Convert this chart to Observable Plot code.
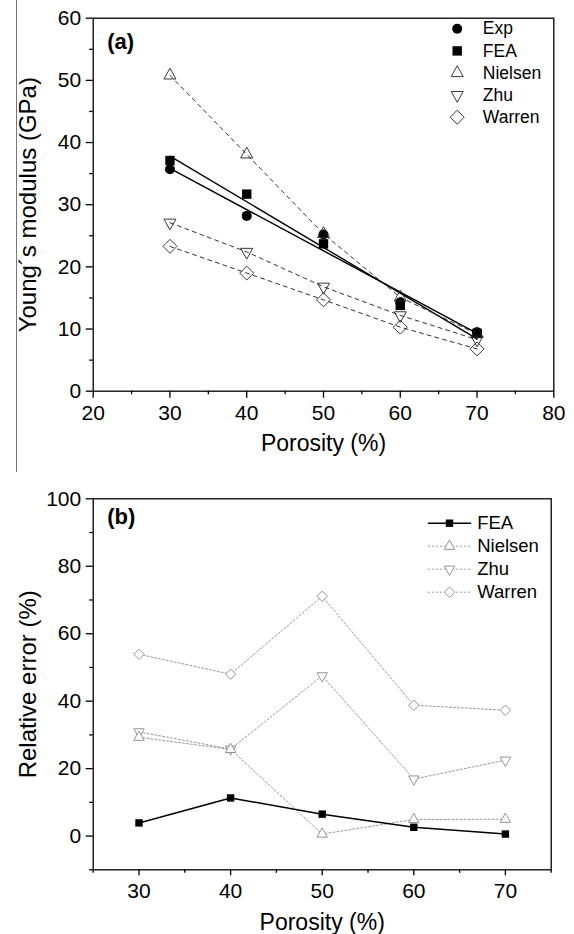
<!DOCTYPE html>
<html>
<head>
<meta charset="utf-8">
<script src="https://cdn.jsdelivr.net/npm/d3@7"></script>
<script src="https://cdn.jsdelivr.net/npm/@observablehq/plot@0.6"></script>
<style>
  html, body { margin: 0; padding: 0; background: #fff; }
  body { width: 574px; height: 934px; position: relative; overflow: hidden; font-family: "Liberation Sans", Arial, sans-serif; }
  #pa { position: absolute; left: 0; top: 0; }
  #pb { position: absolute; left: 0; top: 470px; }
  #edge { position: absolute; left: 16px; top: 0; width: 1px; height: 472px; background: #777; }
</style>
</head>
<body>
<div id="pa"></div>
<div id="pb"></div>
<div id="edge"></div>
<script>
// ---------- data ----------
const porosity = [30, 40, 50, 60, 70];

// panel (a): Young's modulus (GPa)
const expE     = [35.7, 28.2, 25.2, 14.3, 9.5];
const feaE     = [37.1, 31.7, 23.7, 13.8, 9.3];
const nielsenE = [50.8, 38.1, 25.3, 15.1, 9.2];
const zhuE     = [27.1, 22.4, 16.8, 12.2, 8.3];
const warrenE  = [23.3, 19.0, 14.7, 10.3, 6.8];

// panel (b): relative error (%)
const feaErr     = [3.9, 11.3, 6.5, 2.6, 0.6];
const nielsenErr = [29.3, 25.7, 0.6, 4.9, 5.0];
const zhuErr     = [30.9, 25.8, 47.5, 16.9, 22.5];
const warrenErr  = [53.9, 48.0, 71.1, 38.8, 37.3];

// axes / labels
const xTicksA = [20, 30, 40, 50, 60, 70, 80];
const xMinorA = [25, 35, 45, 55, 65, 75];
const yTicksA = [0, 10, 20, 30, 40, 50, 60];
const yMinorA = [5, 15, 25, 35, 45, 55];
const xTicksB = [30, 40, 50, 60, 70];
const xMinorB = [25, 35, 45, 55, 65, 75];
const yTicksB = [0, 20, 40, 60, 80, 100];
const yMinorB = [-10, 10, 30, 50, 70, 90];
const xTitle = "Porosity (%)";
const yTitleA = "Young\u00b4s modulus (GPa)";
const yTitleB = "Relative error (%)";
const panelA = "(a)";
const panelB = "(b)";
const legendA = ["Exp", "FEA", "Nielsen", "Zhu", "Warren"];
const legendB = ["FEA", "Nielsen", "Zhu", "Warren"];

// ---------- symbols ----------
const rad = size => Math.sqrt(size / Math.PI);
const sym = {
  circle: "circle",
  square: { draw(c, s) { const r = rad(s); c.rect(-r, -r, 2 * r, 2 * r); } },
  up: { draw(c, s) { const r = rad(s); c.moveTo(0, -1.2 * r); c.lineTo(r, 0.6 * r); c.lineTo(-r, 0.6 * r); c.closePath(); } },
  down: { draw(c, s) { const r = rad(s); c.moveTo(0, 1.2 * r); c.lineTo(r, -0.6 * r); c.lineTo(-r, -0.6 * r); c.closePath(); } },
  diamond: { draw(c, s) { const r = rad(s); c.moveTo(0, -r); c.lineTo(r, 0); c.lineTo(0, r); c.lineTo(-r, 0); c.closePath(); } },
  seg: { draw(c, s) { c.moveTo(-21.7, 0); c.lineTo(21.7, 0); } }
};

const rows = (vals, name) => porosity.map((p, i) => ({ p, v: vals[i], s: name }));
const font = "'Liberation Sans', Arial, sans-serif";

// ---------- panel (a) ----------
const A = {
  Exp: rows(expE, "Exp"), FEA: rows(feaE, "FEA"), Nielsen: rows(nielsenE, "Nielsen"),
  Zhu: rows(zhuE, "Zhu"), Warren: rows(warrenE, "Warren")
};
const styleA = {
  Exp:     { symbol: sym.circle, r: 5,   fill: "black", stroke: "none" },
  FEA:     { symbol: sym.square, r: 4.7, fill: "black", stroke: "none" },
  Nielsen: { symbol: sym.up,     r: 6,   fill: "none", stroke: "#222", strokeWidth: 0.9 },
  Zhu:     { symbol: sym.down,   r: 6,   fill: "none", stroke: "#222", strokeWidth: 0.9 },
  Warren:  { symbol: sym.diamond,r: 7,   fill: "none", stroke: "#222", strokeWidth: 0.9 }
};

const marksA = [
  Plot.axisX({ ticks: xTicksA, tickSize: 7, tickPadding: 7, fontSize: 21, strokeWidth: 1.3, tickFormat: d => String(d), label: null }),
  Plot.axisX({ ticks: xMinorA, tickSize: 3.5, tickFormat: () => "", strokeWidth: 1.3, label: null }),
  Plot.axisY({ ticks: yTicksA, tickSize: 7, tickPadding: 5, fontSize: 21, strokeWidth: 1.3, tickFormat: d => String(d), label: null }),
  Plot.axisY({ ticks: yMinorA, tickSize: 3.5, tickFormat: () => "", strokeWidth: 1.3, label: null }),
  Plot.frame({ stroke: "black", strokeWidth: 1.3 }),
  Plot.linearRegressionY(A.Exp, { x: "p", y: "v", ci: 0, stroke: "black", strokeWidth: 1.4 }),
  Plot.linearRegressionY(A.FEA, { x: "p", y: "v", ci: 0, stroke: "black", strokeWidth: 1.4 }),
  ...["Nielsen", "Zhu", "Warren"].map(k =>
    Plot.line(A[k], { x: "p", y: "v", stroke: "#333", strokeWidth: 1, strokeDasharray: "4,4" })),
  ...Object.keys(A).map(k => Plot.dot(A[k], { x: "p", y: "v", ...styleA[k] })),
  Plot.text([panelA], { frameAnchor: "top-left", dx: 14, dy: 15, textAnchor: "start", lineAnchor: "top", fontSize: 22, fontWeight: "bold", text: d => d }),
  Plot.text([yTitleA], { frameAnchor: "left", dx: -65, rotate: -90, textAnchor: "middle", lineAnchor: "middle", fontSize: 24, text: d => d }),
  Plot.text([xTitle], { frameAnchor: "bottom", dy: 52, textAnchor: "middle", lineAnchor: "middle", fontSize: 23, text: d => d }),
  ...legendA.flatMap((k, i) => [
    Plot.dot([k], { frameAnchor: "top-right", dx: -96.6, dy: 10.6 + i * 22.1, ...styleA[k] }),
    Plot.text([k], { frameAnchor: "top-right", dx: -71, dy: 10.6 + i * 22.1, textAnchor: "start", lineAnchor: "middle", fontSize: 17.5, text: d => d })
  ])
];

const plotA = Plot.plot({
  width: 574, height: 470,
  marginLeft: 92.7, marginRight: 20.7, marginTop: 17.7, marginBottom: 79.3,
  x: { domain: [20, 80] },
  y: { domain: [0, 60] },
  style: { fontFamily: font, background: "white", color: "black", overflow: "visible" },
  marks: marksA
});
document.getElementById("pa").appendChild(plotA);

// ---------- panel (b) ----------
const B = {
  FEA: rows(feaErr, "FEA"), Nielsen: rows(nielsenErr, "Nielsen"),
  Zhu: rows(zhuErr, "Zhu"), Warren: rows(warrenErr, "Warren")
};
const gray = "#8a8a8a";
const styleB = {
  FEA:     { symbol: sym.square, r: 3.7, fill: "black", stroke: "none" },
  Nielsen: { symbol: sym.up,     r: 5.2, fill: "white", stroke: gray, strokeWidth: 0.9 },
  Zhu:     { symbol: sym.down,   r: 5.2, fill: "white", stroke: gray, strokeWidth: 0.9 },
  Warren:  { symbol: sym.diamond,r: 5.2, fill: "white", stroke: gray, strokeWidth: 0.9 }
};
const lineB = {
  FEA:     { stroke: "black", strokeWidth: 1.5 },
  Nielsen: { stroke: "#999", strokeWidth: 1, strokeDasharray: "2,2" },
  Zhu:     { stroke: "#999", strokeWidth: 1, strokeDasharray: "2,2" },
  Warren:  { stroke: "#999", strokeWidth: 1, strokeDasharray: "2,2" }
};
const orderB = ["Warren", "Zhu", "Nielsen", "FEA"];

const marksB = [
  Plot.axisX({ ticks: xTicksB, tickSize: 6, tickPadding: 7, fontSize: 21, strokeWidth: 1.3, tickFormat: d => String(d), label: null }),
  Plot.axisX({ ticks: xMinorB, tickSize: 3.5, tickFormat: () => "", strokeWidth: 1.3, label: null }),
  Plot.axisY({ ticks: yTicksB, tickSize: 7, tickPadding: 5, fontSize: 21, strokeWidth: 1.3, tickFormat: d => String(d), label: null }),
  Plot.axisY({ ticks: yMinorB, tickSize: 3.5, tickFormat: () => "", strokeWidth: 1.3, label: null }),
  Plot.frame({ stroke: "black", strokeWidth: 1.3 }),
  ...orderB.map(k => Plot.line(B[k], { x: "p", y: "v", ...lineB[k] })),
  ...orderB.map(k => Plot.dot(B[k], { x: "p", y: "v", ...styleB[k] })),
  Plot.text([panelB], { frameAnchor: "top-left", dx: 14, dy: 10, textAnchor: "start", lineAnchor: "top", fontSize: 22, fontWeight: "bold", text: d => d }),
  Plot.text([yTitleB], { frameAnchor: "left", dx: -65, rotate: -90, textAnchor: "middle", lineAnchor: "middle", fontSize: 24, text: d => d }),
  Plot.text([xTitle], { frameAnchor: "bottom", dy: 52.4, textAnchor: "middle", lineAnchor: "middle", fontSize: 23, text: d => d }),
  ...legendB.flatMap((k, i) => [
    Plot.dot([k], { frameAnchor: "top-right", dx: -101.7, dy: 24.4 + i * 23, symbol: sym.seg, r: 1, fill: "none", ...lineB[k] }),
    Plot.dot([k], { frameAnchor: "top-right", dx: -101.7, dy: 24.4 + i * 23, ...styleB[k] }),
    Plot.text([k], { frameAnchor: "top-right", dx: -74, dy: 24.4 + i * 23, textAnchor: "start", lineAnchor: "middle", fontSize: 18.5, text: d => d })
  ])
];

const plotB = Plot.plot({
  width: 574, height: 464,
  marginLeft: 92.7, marginRight: 23.3, marginTop: 28.3, marginBottom: 64.7,
  x: { domain: [25, 75] },
  y: { domain: [-10, 100] },
  style: { fontFamily: font, background: "white", color: "black", overflow: "visible" },
  marks: marksB
});
document.getElementById("pb").appendChild(plotB);
</script>
</body>
</html>
